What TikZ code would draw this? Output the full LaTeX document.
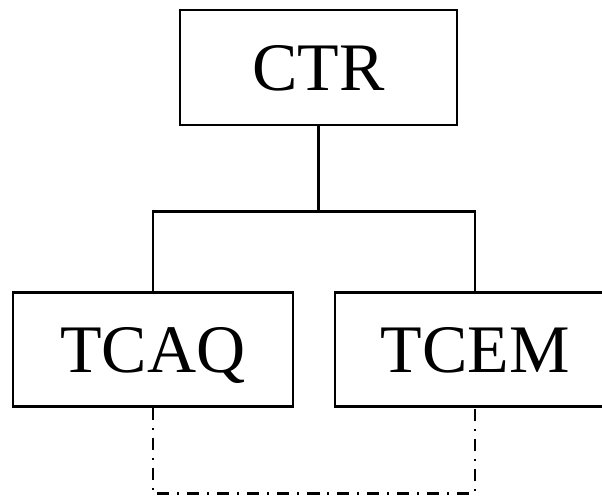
\documentclass[tikz,border=0pt]{standalone}
\usepackage{fontspec}
\setmainfont{Liberation Serif}
\tikzset{
  unit/.style={draw=black, line width=2.4pt, rectangle, inner sep=0pt,
    font=\fontsize{68}{72}\selectfont, text height=45pt, text depth=0pt},
  link/.style={line width=2.4pt},
  dashdotlink/.style={line width=2.4pt, dash pattern=on 12pt off 8pt on 2pt off 8pt}
}
\begin{document}
\begin{tikzpicture}[x=1pt,y=-1pt]
\clip (0,0) rectangle (602,496);
\useasboundingbox (0,0) rectangle (602,496);
\node[unit, minimum width=277pt, minimum height=115pt] (ctr) at (318.5,67.5) {CTR};
\node[unit, minimum width=280pt, minimum height=114pt] (tcaq) at (153,349.5) {TCAQ};
\node[unit, minimum width=280pt, minimum height=114pt] (tcem) at (475,349.5) {TCEM};
\coordinate (j) at (318.5,211.5);
\draw[link] (ctr.south) -- (j);
\draw[link] (tcaq.north) |- (j) -| (tcem.north);
\coordinate (b) at (318.5,493.5);
\draw[dashdotlink] (tcaq.south) |- (b) -| (tcem.south);
\end{tikzpicture}
\end{document}
